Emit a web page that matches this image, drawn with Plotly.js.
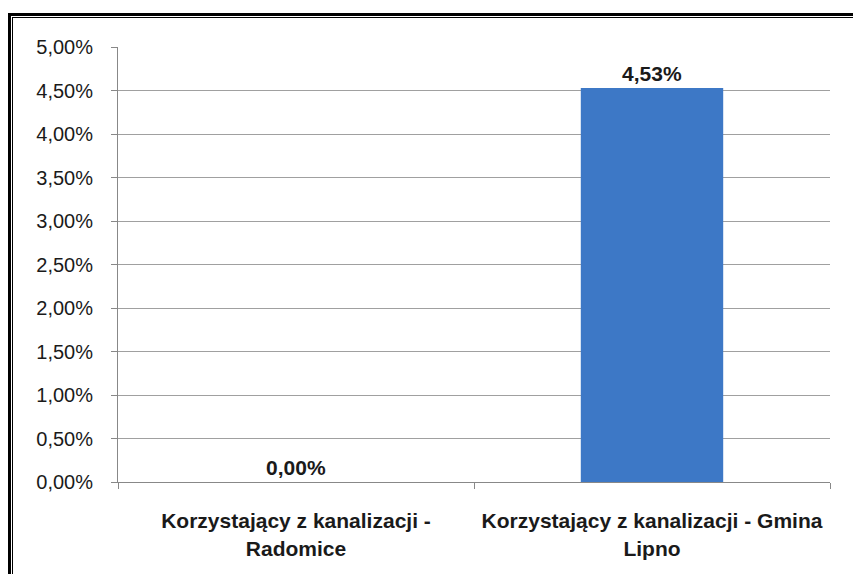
<!DOCTYPE html>
<html><head><meta charset="utf-8">
<script src="https://cdn.plot.ly/plotly-3.0.1.min.js"></script>
<style>
body{margin:0;background:#fff;}
#wrap{position:relative;width:853px;height:574px;overflow:hidden;}
#chart{position:absolute;left:0;top:0;width:853px;height:574px;}
.b1{position:absolute;left:8px;top:13px;width:900px;height:700px;border-top:3px solid #000;border-left:3px solid #000;}
.b2{position:absolute;left:12px;top:17px;width:900px;height:700px;border-top:1px solid #000;border-left:1px solid #000;}
</style></head>
<body><div id="wrap"><div id="chart"></div><div class="b1"></div><div class="b2"></div></div>
<script>
const categories = ["Korzystający z kanalizacji -<br>Radomice", "Korzystający z kanalizacji - Gmina<br>Lipno"];
const values = [0.0, 0.0453];
const yTicks = [0, 0.005, 0.01, 0.015, 0.02, 0.025, 0.03, 0.035, 0.04, 0.045, 0.05];

const fontFam = '"Liberation Sans", Arial, sans-serif';
Plotly.newPlot('chart', [{
  type: 'bar',
  x: categories,
  y: values,
  marker: {color: '#3d78c6', line: {width: 0}},
  texttemplate: '%{y:.2%}',
  textposition: 'outside',
  cliponaxis: false,
  textfont: {family: fontFam, size: 21, color: '#1a1a1a', weight: 'bold'},
  hoverinfo: 'none'
}], {
  width: 853, height: 574,
  separators: ',.',
  margin: {l: 118, r: 23, t: 47, b: 92},
  bargap: 0.6,
  showlegend: false,
  paper_bgcolor: '#fff', plot_bgcolor: '#fff',
  xaxis: {
    type: 'category',
    tickson: 'boundaries',
    ticks: 'outside', ticklen: 6, tickcolor: '#888',
    showline: true, linecolor: '#888', linewidth: 1,
    showgrid: false,
    tickfont: {family: fontFam, size: 21, color: '#1a1a1a', weight: 'bold'},
    ticklabelstandoff: 20
  },
  yaxis: {
    range: [0, 0.05],
    tickvals: yTicks,
    tickformat: '.2%',
    ticks: 'outside', ticklen: 6, tickcolor: '#888',
    showline: true, linecolor: '#888', linewidth: 1,
    showgrid: true, gridcolor: '#a0a0a0', gridwidth: 1,
    zeroline: false,
    tickfont: {family: fontFam, size: 20, color: '#1a1a1a'},
    ticklabelstandoff: 14
  }
}, {displayModeBar: false, staticPlot: true});
</script></body></html>
